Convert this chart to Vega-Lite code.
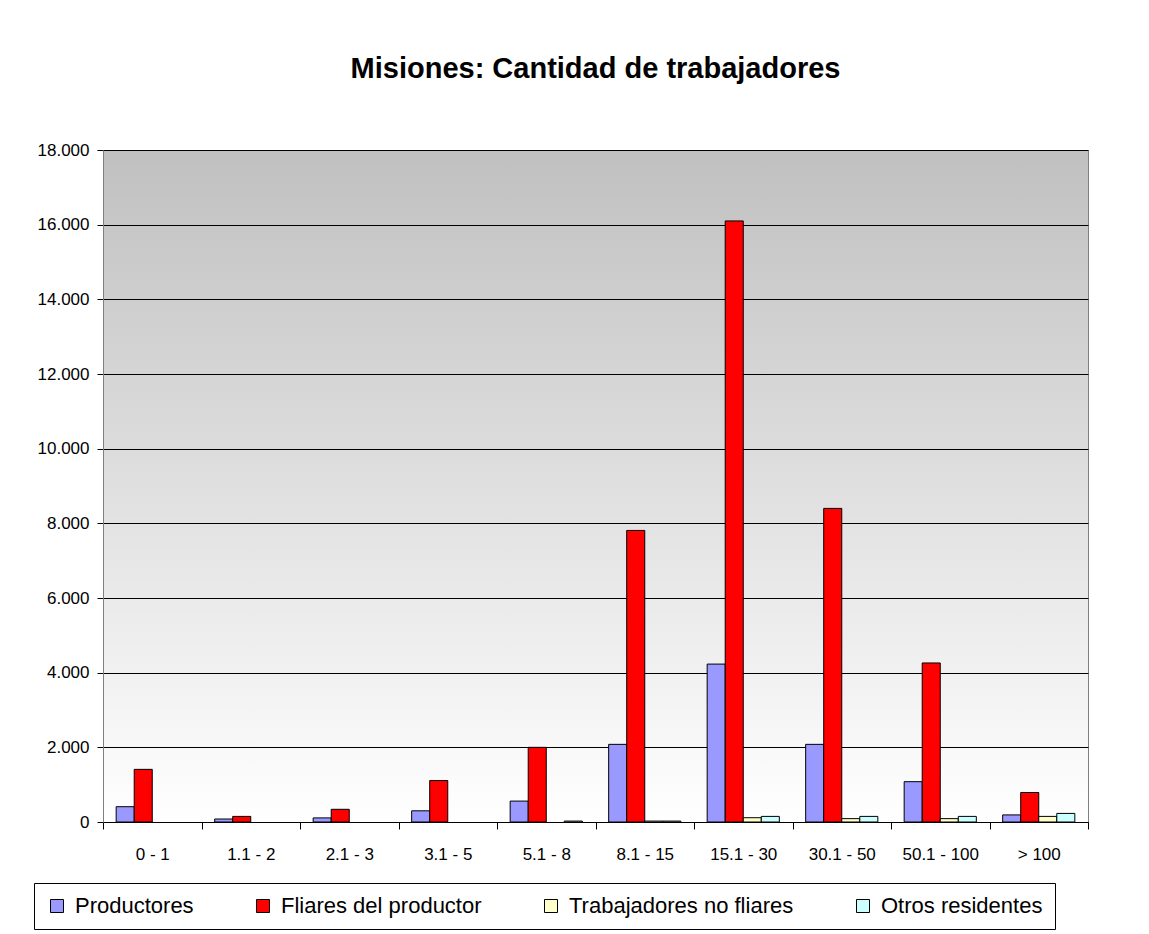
{
  "$schema": "https://vega.github.io/schema/vega-lite/v6.json",
  "width": 985,
  "height": 672,
  "autosize": {"type": "none"},
  "padding": {"left": 103, "top": 150, "right": 61, "bottom": 112},
  "background": "white",
  "title": {"text": "Misiones: Cantidad de trabajadores", "fontSize": 29, "font": "Liberation Sans", "fontWeight": "bold", "color": "black", "anchor": "middle", "offset": 34, "baseline": "alphabetic"},
  "config": {
    "locale": {"number": {"decimal": ",", "thousands": ".", "grouping": [3], "currency": ["$", ""]}},
    "font": "Liberation Sans",
    "view": {"stroke": "#808080", "strokeWidth": 1, "fill": {"gradient": "linear", "x1": 0, "y1": 0, "x2": 0, "y2": 1, "stops": [{"offset": 0, "color": "#c0c0c0"}, {"offset": 1, "color": "#ffffff"}]}}
  },
  "data": {"values": [
    {"rango": "0 - 1", "serie": "Productores", "valor": 410},
    {"rango": "0 - 1", "serie": "Fliares del productor", "valor": 1410},
    {"rango": "1.1 - 2", "serie": "Productores", "valor": 80},
    {"rango": "1.1 - 2", "serie": "Fliares del productor", "valor": 150},
    {"rango": "2.1 - 3", "serie": "Productores", "valor": 110},
    {"rango": "2.1 - 3", "serie": "Fliares del productor", "valor": 340},
    {"rango": "3.1 - 5", "serie": "Productores", "valor": 300},
    {"rango": "3.1 - 5", "serie": "Fliares del productor", "valor": 1110},
    {"rango": "5.1 - 8", "serie": "Productores", "valor": 560},
    {"rango": "5.1 - 8", "serie": "Fliares del productor", "valor": 2000},
    {"rango": "5.1 - 8", "serie": "Otros residentes", "valor": 25},
    {"rango": "8.1 - 15", "serie": "Productores", "valor": 2080},
    {"rango": "8.1 - 15", "serie": "Fliares del productor", "valor": 7810},
    {"rango": "8.1 - 15", "serie": "Trabajadores no fliares", "valor": 25},
    {"rango": "8.1 - 15", "serie": "Otros residentes", "valor": 25},
    {"rango": "15.1 - 30", "serie": "Productores", "valor": 4230},
    {"rango": "15.1 - 30", "serie": "Fliares del productor", "valor": 16100},
    {"rango": "15.1 - 30", "serie": "Trabajadores no fliares", "valor": 115},
    {"rango": "15.1 - 30", "serie": "Otros residentes", "valor": 150},
    {"rango": "30.1 - 50", "serie": "Productores", "valor": 2080},
    {"rango": "30.1 - 50", "serie": "Fliares del productor", "valor": 8400},
    {"rango": "30.1 - 50", "serie": "Trabajadores no fliares", "valor": 90},
    {"rango": "30.1 - 50", "serie": "Otros residentes", "valor": 150},
    {"rango": "50.1 - 100", "serie": "Productores", "valor": 1080},
    {"rango": "50.1 - 100", "serie": "Fliares del productor", "valor": 4260},
    {"rango": "50.1 - 100", "serie": "Trabajadores no fliares", "valor": 90},
    {"rango": "50.1 - 100", "serie": "Otros residentes", "valor": 150},
    {"rango": "> 100", "serie": "Productores", "valor": 190},
    {"rango": "> 100", "serie": "Fliares del productor", "valor": 790},
    {"rango": "> 100", "serie": "Trabajadores no fliares", "valor": 150},
    {"rango": "> 100", "serie": "Otros residentes", "valor": 230}
  ]},
  "mark": {"type": "bar", "stroke": "black", "strokeWidth": 1},
  "encoding": {
    "x": {
      "field": "rango", "type": "nominal",
      "sort": ["0 - 1", "1.1 - 2", "2.1 - 3", "3.1 - 5", "5.1 - 8", "8.1 - 15", "15.1 - 30", "30.1 - 50", "50.1 - 100", "> 100"],
      "scale": {"paddingInner": 0, "paddingOuter": 0},
      "axis": {"title": null, "labelAngle": 0, "labelFontSize": 17, "labelColor": "black", "tickBand": "extent", "tickSize": 7, "tickColor": "black", "domainColor": "black", "labelPadding": 17, "grid": false}
    },
    "xOffset": {
      "field": "serie", "type": "nominal",
      "sort": ["Productores", "Fliares del productor", "Trabajadores no fliares", "Otros residentes"],
      "scale": {"domain": ["Productores", "Fliares del productor", "Trabajadores no fliares", "Otros residentes"], "paddingInner": 0, "paddingOuter": 0.73}
    },
    "y": {
      "field": "valor", "type": "quantitative",
      "scale": {"domain": [0, 18000], "nice": false},
      "axis": {"title": null, "values": [0, 2000, 4000, 6000, 8000, 10000, 12000, 14000, 16000, 18000], "format": ",.0f", "grid": true, "gridColor": "black", "gridOpacity": 1, "gridWidth": 1, "domainColor": "#808080", "tickColor": "black", "tickSize": 6, "labelPadding": 8, "labelFontSize": 17, "labelColor": "black"}
    },
    "color": {
      "field": "serie", "type": "nominal",
      "sort": ["Productores", "Fliares del productor", "Trabajadores no fliares", "Otros residentes"],
      "scale": {"domain": ["Productores", "Fliares del productor", "Trabajadores no fliares", "Otros residentes"], "range": ["#9999ff", "#ff0000", "#ffffcc", "#ccffff"]},
      "legend": {"title": null, "orient": "none", "legendX": -69, "legendY": 733, "direction": "horizontal", "columns": 4, "symbolType": "square", "symbolSize": 169, "symbolStrokeColor": "black", "symbolStrokeWidth": 1, "labelFontSize": 22, "labelColor": "black", "labelOffset": 7, "columnPadding": 58, "padding": 12, "strokeColor": "black", "fillColor": "white", "labelLimit": 400}
    }
  }
}
